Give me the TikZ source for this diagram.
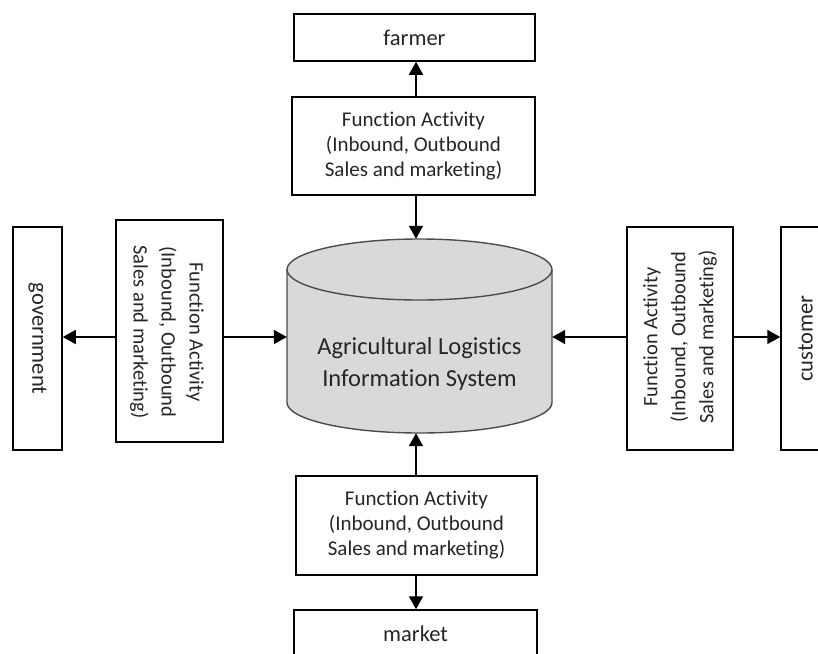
\documentclass[tikz,border=0pt]{standalone}
\usepackage{fontspec}
\setmainfont{Carlito}[Ligatures={NoCommon}]
\usetikzlibrary{arrows.meta}
\begin{document}
\begin{tikzpicture}[x=1pt,y=-1pt,
  boxst/.style={draw=black, line width=1.5pt, fill=white, inner sep=0pt, text=black},
  ftext/.style={font=\fontsize{21}{25}\selectfont, align=center, inner sep=0pt, text=black!85},
  rtext/.style={font=\fontsize{20.5}{28}\selectfont, align=center, inner sep=0pt, text=black!85},
  etext/.style={font=\fontsize{22.5}{26}\selectfont, text=black!85},
  conn/.style={line width=1.8pt, -{Triangle[length=13pt,width=14pt]}}]
\useasboundingbox (0,0) rectangle (818,653);
\clip (0,0) rectangle (818,653);
% cylinder
\fill[gray!30] (287,269.5) rectangle (552,402.5);
\fill[gray!30] (419.5,402.5) ellipse [x radius=132.5, y radius=30.5];
\fill[gray!30] (419.5,269.5) ellipse [x radius=132.5, y radius=30.5];
\draw[black!70, line width=1.4pt] (287,269.5) -- (287,402.5)
  arc[start angle=180, end angle=0, x radius=132.5, y radius=30.5] -- (552,269.5);
\draw[black!70, line width=1.4pt] (419.5,269.5) ellipse [x radius=132.5, y radius=30.5];
\node[inner sep=0pt, minimum width=265pt, minimum height=194pt] (cyl) at (419.5,336) {};
\node[font=\fontsize{24.5}{32}\selectfont, align=center, text=black!85] (cylt) at (419.5,364) {Agricultural Logistics\\Information System};
% boxes
\node[boxst, minimum width=241pt, minimum height=47pt, etext] (farmer) at (414.5,37.5) {farmer};
\node[boxst, minimum width=243pt, minimum height=98pt] (topfa) at (413.5,146) {};
\node[ftext] (topfat) at (413.5,146) {Function Activity\\(Inbound, Outbound\\Sales and marketing)};
\node[boxst, minimum width=241pt, minimum height=99pt] (botfa) at (416.5,525.5) {};
\node[ftext] (botfat) at (416.5,525.5) {Function Activity\\(Inbound, Outbound\\Sales and marketing)};
\node[boxst, minimum width=243pt, minimum height=47pt, etext] (market) at (415.5,633.5) {market};
\node[boxst, minimum width=49pt, minimum height=223pt] (gov) at (37.5,338.5) {};
\node[etext, rotate=-90] (govt) at (37.5,338.5) {government};
\node[boxst, minimum width=107pt, minimum height=222pt] (lfa) at (169.5,331) {};
\node[rtext, rotate=-90] (lfat) at (167,332) {Function Activity\\(Inbound, Outbound\\Sales and marketing)};
\node[boxst, minimum width=106pt, minimum height=223pt] (rfa) at (680,338.5) {};
\node[rtext, rotate=90] (rfat) at (680,337) {Function Activity\\(Inbound, Outbound\\Sales and marketing)};
\node[boxst, minimum width=49pt, minimum height=223pt] (cust) at (805.5,338.5) {};
\node[etext, rotate=90] (custt) at (805.5,338.5) {customer};
% connectors
\coordinate (ax) at (416,0);
\coordinate (ay) at (0,337);
\draw[conn] (topfa.north -| ax) -- (farmer.south -| ax);
\draw[conn] (topfa.south -| ax) -- (cyl.north -| ax);
\draw[conn] (botfa.north -| ax) -- (cyl.south -| ax);
\draw[conn] (botfa.south -| ax) -- (market.north -| ax);
\draw[conn] (lfa.west |- ay) -- (gov.east |- ay);
\draw[conn] (lfa.east |- ay) -- (cyl.west |- ay);
\draw[conn] (rfa.west |- ay) -- (cyl.east |- ay);
\draw[conn] (rfa.east |- ay) -- (cust.west |- ay);
\end{tikzpicture}
\end{document}
